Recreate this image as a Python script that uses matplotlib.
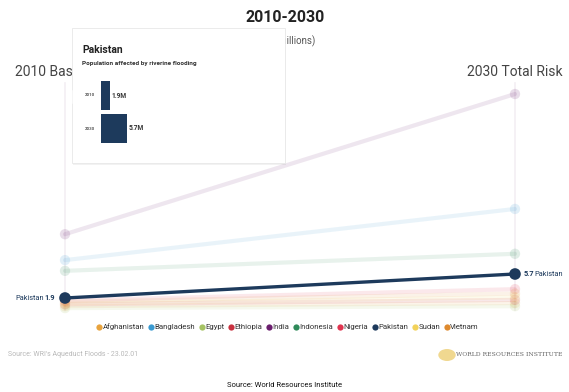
import matplotlib.pyplot as plt
from matplotlib.patches import FancyBboxPatch, Polygon, Circle
from matplotlib.lines import Line2D

plt.rcParams['font.family'] = ['Roboto', 'DejaVu Sans']

countries = ["Afghanistan", "Bangladesh", "Egypt", "Ethiopia", "India",
             "Indonesia", "Nigeria", "Pakistan", "Sudan", "Vietnam"]
colors = ["#e8a33d", "#3a9ad1", "#a5c263", "#c8313f", "#6b1e6e",
          "#2f8a5a", "#e0344f", "#1d3a5c", "#f2d25a", "#de8a2f"]
# people affected by riverine flooding, millions
baseline_2010 = [0.6, 7.9, 0.3, 0.9, 12.0, 6.2, 1.5, 1.9, 1.0, 1.3]
total_2030 = [1.1, 16.0, 0.6, 1.6, 34.2, 8.9, 3.3, 5.7, 2.0, 2.6]
highlight = "Pakistan"

W, H = 569, 392
fig = plt.figure(figsize=(W / 100, H / 100), dpi=100)


def fx(px):
    return px / W


def fy(py):
    return 1 - py / H


x0, x1 = 65, 515
y_zero, y_top = 310, 94
ax = fig.add_axes([fx(x0), fy(y_zero), fx(x1 - x0), (y_zero - y_top) / H])
ax.set_xlim(0, 1)
ax.set_ylim(0, max(total_2030))
ax.axis("off")

# faint vertical guides for the two years
for xv in (0, 1):
    ax.plot([xv, xv], [0, max(total_2030) * 1.05], color="#f3eff3", lw=1.2,
            clip_on=False, zorder=0)

for name, c, a, b in zip(countries, colors, baseline_2010, total_2030):
    if name == highlight:
        continue
    ax.plot([0, 1], [a, b], color=c, alpha=0.11, lw=3, solid_capstyle="round",
            clip_on=False, zorder=1)
    ax.scatter([0, 1], [a, b], s=55, color=c, alpha=0.15, edgecolor="none",
               clip_on=False, zorder=1)

i = countries.index(highlight)
hc, ha, hb = colors[i], baseline_2010[i], total_2030[i]
ax.plot([0, 1], [ha, hb], color=hc, lw=2.4, clip_on=False, zorder=3)
ax.scatter([0, 1], [ha, hb], s=70, color=hc, edgecolor="none",
           clip_on=False, zorder=4)
ax.annotate(f"{highlight}", (0, ha), xytext=(-15.5, 0), textcoords="offset points",
            ha="right", va="center", fontsize=5.3, color=hc)
ax.annotate(f"{ha}", (0, ha), xytext=(-7, 0), textcoords="offset points",
            ha="right", va="center", fontsize=5.3, color=hc, fontweight="bold")
ax.annotate(f"{hb}", (1, hb), xytext=(6, 0), textcoords="offset points",
            ha="left", va="center", fontsize=5.3, color=hc, fontweight="bold")
ax.annotate(highlight, (1, hb), xytext=(14, 0), textcoords="offset points",
            ha="left", va="center", fontsize=5.3, color=hc)

# headings
fig.text(fx(285), fy(18), "2010-2030", ha="center", va="center",
         fontsize=11.5, fontweight="bold", color="#222222")
fig.text(fx(315), fy(41), "Population affected (millions)",
         ha="right", va="center", fontsize=7, color="#555555")
fig.text(fx(15), fy(72), "2010 Baseline", ha="left", va="center",
         fontsize=10, color="#444444")
fig.text(fx(515), fy(72), "2030 Total Risk", ha="center", va="center",
         fontsize=10, color="#444444")

# tooltip
bx0, by0, bx1, by1 = 72, 28, 285, 163
fig.patches.append(FancyBboxPatch((fx(bx0) + 0.002, fy(by1) - 0.006),
                                  fx(bx1 - bx0), (by1 - by0) / H,
                                  boxstyle="square,pad=0", transform=fig.transFigure,
                                  facecolor="#000000", alpha=0.05, edgecolor="none",
                                  zorder=9))
fig.patches.append(FancyBboxPatch((fx(bx0), fy(by1)), fx(bx1 - bx0), (by1 - by0) / H,
                                  boxstyle="square,pad=0", transform=fig.transFigure,
                                  facecolor="white", edgecolor="#e8e8e8", lw=0.6,
                                  zorder=10))
fig.patches.append(Polygon([(fx(bx0 + 0.5), fy(90)), (fx(66), fy(97)),
                            (fx(bx0 + 0.5), fy(104))], closed=True,
                           transform=fig.transFigure, facecolor="white",
                           edgecolor="none", zorder=11))
fig.text(fx(82), fy(50), highlight, ha="left", va="center", fontsize=7.5,
         fontweight="bold", color="#222222", zorder=12)
fig.text(fx(82), fy(64), "Population affected by riverine flooding", ha="left",
         va="center", fontsize=4.6, fontweight="bold", color="#333333", zorder=12)

tip = fig.add_axes([fx(101), fy(145), fx(46), 66 / H], zorder=12)
tip.patch.set_alpha(0)
tip_years = ["2010", "2030"]
tip_vals = [ha, hb]
tip.barh([0, 1], tip_vals, height=0.85, color=hc)
tip.set_xlim(0, 10)
tip.set_ylim(1.5, -0.5)
tip.axis("off")
for k, (yr, v) in enumerate(zip(tip_years, tip_vals)):
    tip.text(-1.2, k, yr, ha="right", va="center", fontsize=3.2,
             fontweight="bold", color="#555555")
    tip.text(v + 0.4, k, f"{v}M", ha="left", va="center", fontsize=4.8,
             fontweight="bold", color="#333333")

# legend
handles = [Line2D([], [], marker="o", ls="none", markersize=4.5, color=c,
                  markeredgecolor="none") for c in colors]
fig.legend(handles, countries, loc="center", bbox_to_anchor=(fx(288), fy(327)),
           ncol=len(countries), frameon=False, fontsize=5.6, handlelength=0.5,
           handletextpad=0.2, columnspacing=0.6, labelcolor="#333333")

# footer
fig.text(fx(8), fy(355), "Source: WRI's Aqueduct Floods - 23.02.01", ha="left",
         va="center", fontsize=5, color="#b8b8b8")
fig.patches.append(Circle((fx(447), fy(355)), 6 / H, transform=fig.transFigure,
                          facecolor="#f0d890", edgecolor="none"))
fig.text(fx(456), fy(355), "WORLD RESOURCES INSTITUTE", ha="left", va="center",
         fontsize=4.4, family="DejaVu Serif", color="#666666")
fig.text(fx(285), fy(385), "Source: World Resources Institute", ha="center",
         va="center", fontsize=5.5, color="#111111")

fig.savefig("out.png", dpi=100)
